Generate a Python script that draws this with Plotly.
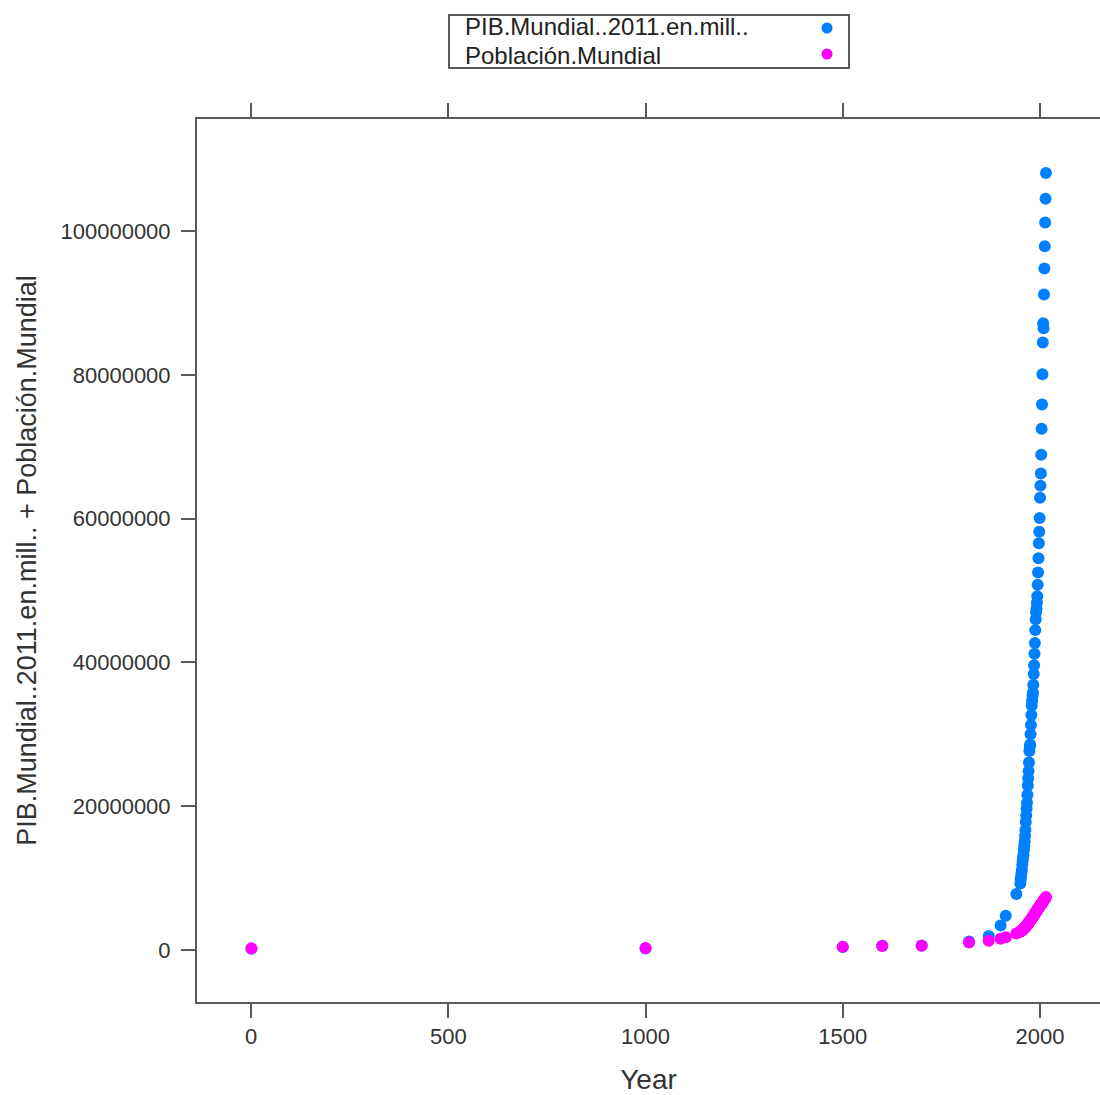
import plotly.graph_objects as go

# World GDP (millions of 2011 int-$) and world population (thousands) by year
years_hist = [1, 1000, 1500, 1600, 1700, 1820, 1870, 1900, 1913, 1940]
gdp_hist = [182000, 210000, 430000, 600000, 643000, 1200000, 1950000, 3400000, 4770000, 7800000]
pop_hist = [230820, 267573, 438428, 556148, 603490, 1041708, 1275732, 1563000, 1791020, 2300000]

years_modern = list(range(1950, 2016))
gdp_modern = [
    9250000, 9800000, 10250000, 10750000, 11150000, 11850000, 12400000, 12900000,
    13250000, 13900000, 14500000, 15100000, 15900000, 16700000, 17800000, 18700000,
    19700000, 20500000, 21600000, 22900000, 23900000, 24900000, 26100000, 27700000,
    28300000, 28600000, 30000000, 31300000, 32700000, 34000000, 34700000, 35400000,
    35800000, 36900000, 38400000, 39600000, 41200000, 42700000, 44500000, 46000000,
    47000000, 47500000, 48300000, 49200000, 50800000, 52500000, 54500000, 56600000,
    58200000, 60100000, 62900000, 64600000, 66300000, 68900000, 72500000, 75900000,
    80100000, 84500000, 87200000, 86500000, 91200000, 94800000, 97900000, 101200000,
    104500000, 108100000,
]
pop_modern = [
    2536000, 2584000, 2631000, 2680000, 2729000, 2773000, 2829000, 2882000,
    2936000, 2990000, 3035000, 3079000, 3136000, 3202000, 3269000, 3340000,
    3409000, 3478000, 3549000, 3623000, 3700000, 3775000, 3851000, 3926000,
    4002000, 4079000, 4152000, 4226000, 4300000, 4378000, 4458000, 4540000,
    4623000, 4708000, 4790000, 4871000, 4956000, 5043000, 5131000, 5219000,
    5327000, 5397000, 5482000, 5565000, 5647000, 5744000, 5811000, 5892000,
    5972000, 6052000, 6143000, 6211000, 6290000, 6369000, 6446000, 6542000,
    6604000, 6682000, 6761000, 6841000, 6957000, 7003000, 7086000, 7170000,
    7254000, 7380000,
]

years = years_hist + years_modern
gdp = gdp_hist + gdp_modern
pop = pop_hist + pop_modern

series_names = ["PIB.Mundial..2011.en.mill..", "Población.Mundial"]
series_colors = ["#0080ff", "#ff00ff"]

x_ticks = [0, 500, 1000, 1500, 2000]
y_ticks = [0, 20000000, 40000000, 60000000, 80000000, 100000000]

FONT = "Liberation Sans, Arial, Helvetica, sans-serif"
AXIS_GREY = "#5a5a5a"
TEXT_GREY = "#333333"

fig = go.Figure()
for vals, name, color in zip([gdp, pop], series_names, series_colors):
    fig.add_trace(go.Scatter(
        x=years, y=vals, mode="markers", name=name,
        marker=dict(color=color, size=12, line=dict(width=0)),
        showlegend=False,
    ))

# Key box above the panel, with the symbol to the right of each label
fig.add_shape(type="rect", xref="paper", yref="paper",
              x0=(449 - 197) / 903, x1=(849 - 197) / 903,
              y0=(1002 - 68) / 883, y1=(1002 - 15) / 883,
              line=dict(color=AXIS_GREY, width=2), fillcolor="white")
for i, (name, color) in enumerate(zip(series_names, series_colors)):
    ypix = 27 + 28 * i
    fig.add_annotation(xref="paper", yref="paper",
                       x=(464 - 197) / 903, y=(1002 - ypix) / 883,
                       text=name, showarrow=False, xanchor="left", yanchor="middle",
                       borderpad=0,
                       font=dict(family=FONT, size=24, color="#222222"))
    cx, cy = 827, 28 + 26 * i
    fig.add_shape(type="circle", xref="paper", yref="paper",
                  x0=(cx - 5.5 - 197) / 903, x1=(cx + 5.5 - 197) / 903,
                  y0=(1002 - cy - 5.5) / 883, y1=(1002 - cy + 5.5) / 883,
                  line=dict(width=0), fillcolor=color)

fig.update_layout(
    width=1100, height=1095,
    margin=dict(l=197, r=0, t=119, b=93),
    paper_bgcolor="white", plot_bgcolor="white",
    font=dict(family=FONT, color=TEXT_GREY),
    xaxis=dict(
        range=[-137, 2152], tickvals=x_ticks, ticktext=[str(v) for v in x_ticks],
        showgrid=False, zeroline=False, showline=True, linecolor=AXIS_GREY, linewidth=2,
        mirror="ticks", ticks="outside", ticklen=14, tickwidth=2, tickcolor=AXIS_GREY,
        tickfont=dict(size=22, color=TEXT_GREY),
        title=dict(text="Year", font=dict(size=28, color=TEXT_GREY), standoff=26),
    ),
    yaxis=dict(
        range=[-7230000, 115600000], tickvals=y_ticks, ticktext=[str(v) for v in y_ticks],
        showgrid=False, zeroline=False, showline=True, linecolor=AXIS_GREY, linewidth=2,
        ticks="outside", ticklen=14, tickwidth=2, tickcolor=AXIS_GREY, ticklabelstandoff=6,
        tickfont=dict(size=22, color=TEXT_GREY),
        title=dict(text="PIB.Mundial..2011.en.mill.. + Población.Mundial",
                   font=dict(size=27, color=TEXT_GREY), standoff=16),
    ),
)

fig.write_html("out.html")
